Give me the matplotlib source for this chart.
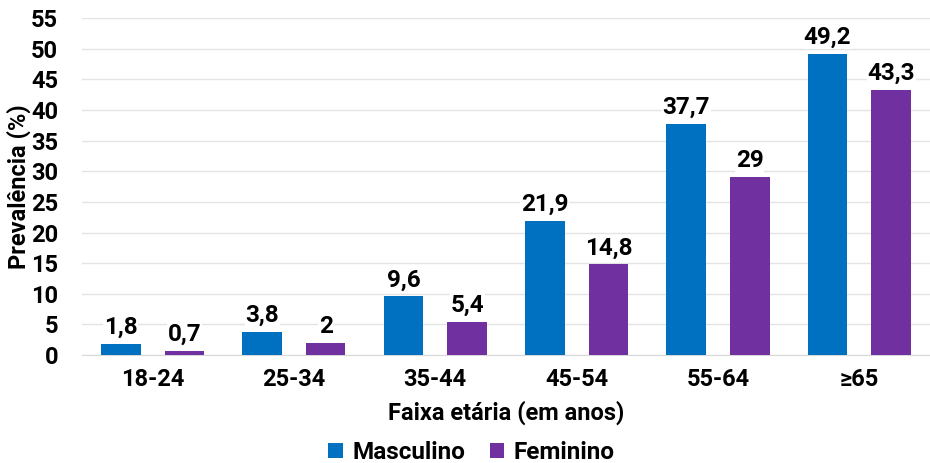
import matplotlib.pyplot as plt
import numpy as np

plt.rcParams['font.family'] = ['Roboto', 'DejaVu Sans']
plt.rcParams['font.weight'] = 'bold'

faixas = ["18-24", "25-34", "35-44", "45-54", "55-64", "≥65"]
masculino = [1.8, 3.8, 9.6, 21.9, 37.7, 49.2]
feminino = [0.7, 2.0, 5.4, 14.8, 29.0, 43.3]

cor_masc = "#0070C0"
cor_fem = "#7030A0"

def fmt(v):
    s = f"{v:.1f}".replace(".", ",")
    if s.endswith(",0"):
        s = s[:-2]
    return s

fig = plt.figure(figsize=(9.3, 4.63), dpi=100)
ax = fig.add_axes([0.088, 0.233, 0.912, 0.728])

x = np.arange(len(faixas))
w = 0.28
off = 0.225

b1 = ax.bar(x - off, masculino, w, color=cor_masc, label="Masculino", zorder=3)
b2 = ax.bar(x + off, feminino, w, color=cor_fem, label="Feminino", zorder=3)

for bars, vals in ((b1, masculino), (b2, feminino)):
    for r, v in zip(bars, vals):
        ax.text(r.get_x() + r.get_width() / 2, v + 0.8, fmt(v), ha="center", va="bottom",
                fontsize=17.5, fontweight="bold", clip_on=False, zorder=4,
                bbox=dict(facecolor="white", edgecolor="none", pad=0.5))

ax.set_xlim(-0.5, len(faixas) - 0.5)
ax.set_ylim(0, 55)
ax.set_yticks(range(0, 56, 5))
ax.set_xticks(x)
ax.set_xticklabels(faixas)
ax.tick_params(axis="both", length=0, labelsize=17, pad=9)
ax.tick_params(axis="y", pad=17)
ax.grid(axis="y", color="#e4e4e4", linewidth=1, zorder=0)
for s in ["top", "right", "left"]:
    ax.spines[s].set_visible(False)
ax.spines["bottom"].set_color("#d9d9d9")

ax.set_ylabel("Prevalência (%)", fontsize=17, fontweight="bold", labelpad=0)
ax.set_xlabel("Faixa etária (em anos)", fontsize=17, fontweight="bold", labelpad=7)

fig.legend(loc="lower center", bbox_to_anchor=(0.507, -0.05), ncol=2, frameon=False,
           fontsize=17.5, handlelength=0.6, handleheight=0.6, handletextpad=0.4,
           columnspacing=1.0)

fig.savefig("out.png", dpi=100)
